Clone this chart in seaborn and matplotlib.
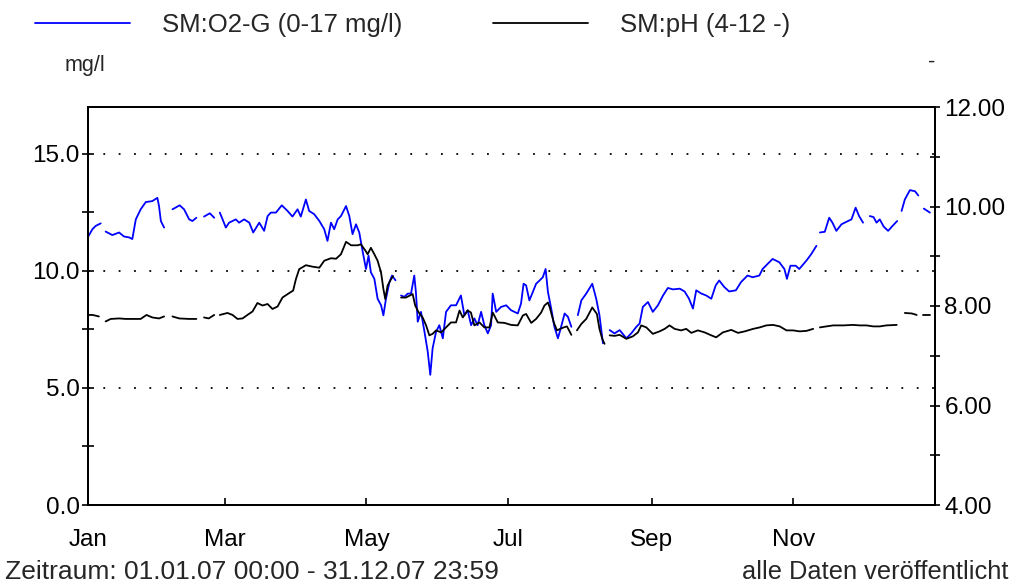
import numpy as np
import pandas as pd
import matplotlib
matplotlib.use("Agg")
import matplotlib.pyplot as plt
import matplotlib.dates as mdates
from matplotlib.ticker import MultipleLocator, FormatStrFormatter
import seaborn as sns

nan = np.nan

# ---- data (day of year 2007, value); NaN = gap in the record ----
o2_day = [0, 1.9, 3.3, 5.5, nan,
          7.6, 10.5, 13.4, 15.5, 17.7, 19.1, 20.6, 22.7, 24.9, 27.7, 29.9, 30.6, 31.4, 32.8, nan,
          36.4, 39.5, 41.4, 43.6, 45, 46.7, nan,
          50, 52.5, 54.4, nan,
          56.8, 58, 59.4, 60.8, 63.7, 65.1, 67.3, 69.5, 71.2, 73.8, 75.9, 77.4, 78.8, 81, 83.5, 86,
          88.1, 90.3, 91.7, 93.9, 95.3, 97.5, 99.7, 101.8, 103.2, 104.7, 106.1, 107.6, 109, 111.2,
          112.6, 114, 115.5, 116.9, 118.3, 119.8, 120.9, 121.9, 123.4, 124.8, 126.3, 127.3, 128.4,
          129.9, 131, 132.5, nan,
          134.9, 136.3, 137.8, 139.2, 140.6, 141.3, 142.1, 143.5, 145, 146.4, 147.5, 148.5, 150,
          151.4, 152.9, 154.3, 156.4, 158.6, 160.7, 162.2, 163.6, 165.1, 166.5, 167.9, 169.4, 170.8,
          172.3, 173.7, 174.4, 175.9, 178, 180.2, 182.3, 185.2, 186.6, 187.7, 188.8, 190.2, 191.7,
          193.1, 194.6, 196, 197.2, 198.2, 199.6, 201, 202.5, 203.5, 205.4, 206.8, 208.3, nan,
          211.1, 212.6, 214.7, 217.3, 219, 220.4, 221.9, nan,
          224.8, 226.9, 229.1, 232, 234.1, 236.3, 237.7, 239.1, 241.3, 243.4, 245.6, 247.8, 249.9,
          252.1, 255, 257.1, 259, 260.7, 262.1, 264.3, 266.4, 268.6, 270.5, 272, 274.2, 276.3,
          279.2, 281.4, 284.2, 286.4, 289.3, 290.7, 292.9, 295, 297.9, 300.1, 301.2, 302.7, 305,
          306.5, 309.6, 311.7, 313.9, nan,
          315.4, 317.5, 319.4, 320.8, 322.5, 324.7, 326.9, 329, 330.8, 332.3, 334, nan,
          336.9, 338.5, 339.8, 341.2, 342.9, 344.8, 346.7, 348.7, nan,
          350.6, 352, 354.2, 356.4, 357.8, nan,
          360.2, 362.8]
o2_val = [11.45, 11.78, 11.92, 12.03, nan,
          11.68, 11.53, 11.64, 11.47, 11.43, 11.36, 12.2, 12.63, 12.94, 12.98, 13.12, 12.77, 12.13, 11.85, nan,
          12.63, 12.8, 12.63, 12.2, 12.13, 12.27, nan,
          12.32, 12.46, 12.27, nan,
          12.49, 12.2, 11.85, 12.06, 12.2, 12.06, 12.2, 12.06, 11.64, 12.06, 11.71, 12.34, 12.49, 12.49, 12.8, 12.56,
          12.32, 12.63, 12.32, 13.05, 12.56, 12.42, 12.13, 11.78, 11.28, 12.06, 11.78, 12.2, 12.34, 12.77,
          12.34, 11.57, 11.99, 11.64, 10.86, 10.08, 10.65, 9.94, 9.66, 8.81, 8.53, 8.1, 8.81,
          9.52, 9.8, 9.6, nan,
          8.95, 8.89, 9.03, 9.03, 9.8, 9.1, 7.83, 8.25, 7.4, 6.55, 5.56, 6.69, 7.4,
          7.68, 7.12, 8.25, 8.53, 8.53, 8.95, 8.1, 8.32, 7.68, 7.97, 7.68, 8.25, 7.68,
          7.33, 7.68, 9.03, 8.25, 8.46, 8.53, 8.32, 8.18, 8.6, 9.45, 9.38, 8.74, 9.1,
          9.45, 9.59, 9.73, 10.08, 9.1, 8.39, 7.61, 7.12, 7.47, 8.18, 8.04, 7.61, nan,
          8.11, 8.74, 9.03, 9.45, 8.81, 8.11, 6.91, nan,
          7.47, 7.33, 7.47, 7.12, 7.33, 7.61, 7.75, 8.46, 8.67, 8.25, 8.53, 8.95, 9.27,
          9.21, 9.24, 9.12, 8.81, 8.39, 9.17, 9.03, 8.95, 8.81, 9.38, 9.59, 9.31, 9.12,
          9.17, 9.52, 9.8, 9.73, 9.8, 10.08, 10.3, 10.51, 10.37, 10.08, 9.66, 10.22, 10.22,
          10.08, 10.44, 10.72, 11.07, nan,
          11.64, 11.67, 12.27, 12.06, 11.71, 11.99, 12.1, 12.2, 12.7, 12.34, 12.06, nan,
          12.34, 12.3, 12.06, 12.2, 11.89, 11.71, 11.92, 12.13, nan,
          12.56, 13.05, 13.45, 13.4, 13.22, nan,
          12.66, 12.49]

ph_day = [0, 2, 4.7, nan,
          7.6, 9.8, 13.4, 16.3, 19.1, 22.7, 25.2, 27.7, 30.6, 32.8, nan,
          36.4, 39.3, 43.6, 46.7, nan,
          50, 52, 54.4, nan,
          56.8, 60.1, 62.3, 64.4, 66.6, 68.7, 70.9, 73, 75.2, 77.4, 79.5, 81.7, 83.8, 86.7, 88.4,
          89.6, 91, 93.9, 96.8, 99.7, 101.8, 104.7, 106.9, 109, 111.2, 113.4, 116.2, 117.6, 119.6,
          120.5, 121.9, 123.4, 124.8, 126.3, 127.3, 128.1, 129.1, 130.6, 131.5, nan,
          134.9, 137, 139.9, 141, 142.5, 144.2, 145.7, 147.1, 148.5, 150, 152.2, 154.3, 156.4,
          158.6, 160.1, 161.5, 163.6, 165, 166.5, 168.7, 170.8, 173, 174.4, 176.6, 179.5, 182.3,
          185.2, 187.4, 188.8, 191, 193.1, 195.3, 196.7, 198.2, 199, 200.7, 202.1, 203.5, 205,
          206.4, 208.3, nan,
          210.7, 212.6, 214.7, 217.3, 219.3, 220.4, 221.6, 222.6, nan,
          224.8, 227, 229.1, 232, 234.8, 237, 238.4, 240.6, 243.4, 246.3, 248.5, 250.6, 252.8,
          255.6, 257.8, 260, 262.8, 265.7, 268.6, 270.7, 273.6, 277.2, 280.1, 283, 286.6, 289.5,
          292.3, 295.2, 298.1, 301, 303.8, 306.7, 309.6, 312.5, nan,
          315.4, 318.2, 321.1, 325.4, 329.7, 332.6, 335.5, 338.4, 341.2, 344, 348.5, nan,
          352, 355, 357.1, nan,
          360, 362.8]
ph_val = [7.82, 7.82, 7.79, nan,
          7.69, 7.74, 7.75, 7.74, 7.74, 7.74, 7.82, 7.77, 7.75, 7.79, nan,
          7.79, 7.75, 7.74, 7.74, nan,
          7.77, 7.75, 7.82, nan,
          7.82, 7.86, 7.82, 7.74, 7.75, 7.82, 7.89, 8.06, 8.01, 8.04, 7.94, 7.99, 8.17, 8.26, 8.31,
          8.54, 8.74, 8.82, 8.79, 8.77, 8.91, 8.96, 8.95, 9.04, 9.29, 9.22, 9.22, 9.24, 9.11,
          9.04, 9.17, 9.04, 8.91, 8.67, 8.34, 8.14, 8.41, 8.54, 8.6, nan,
          8.17, 8.17, 8.24, 8.01, 7.87, 7.77, 7.61, 7.41, 7.44, 7.51, 7.47, 7.57, 7.67,
          7.67, 7.91, 7.77, 7.91, 7.87, 7.61, 7.67, 7.57, 7.57, 7.87, 7.67, 7.66, 7.62,
          7.61, 7.81, 7.84, 7.66, 7.74, 7.87, 8.01, 8.07, 7.97, 7.67, 7.51, 7.54, 7.57,
          7.59, 7.42, nan,
          7.51, 7.64, 7.74, 7.97, 7.84, 7.54, 7.34, 7.24, nan,
          7.41, 7.4, 7.42, 7.34, 7.39, 7.47, 7.61, 7.57, 7.44, 7.49, 7.54, 7.61, 7.54,
          7.51, 7.54, 7.46, 7.51, 7.47, 7.41, 7.37, 7.47, 7.52, 7.46, 7.49, 7.54, 7.57,
          7.61, 7.62, 7.59, 7.51, 7.51, 7.49, 7.5, 7.54, nan,
          7.57, 7.59, 7.61, 7.61, 7.62, 7.61, 7.61, 7.59, 7.59, 7.61, 7.62, nan,
          7.86, 7.85, 7.82, nan,
          7.82, 7.82]

o2_label = "SM:O2-G (0-17 mg/l)"
ph_label = "SM:pH (4-12 -)"
left_unit = "mg/l"
right_unit = "-"
footer_left = "Zeitraum: 01.01.07 00:00 - 31.12.07 23:59"
footer_right = "alle Daten veröffentlicht"

start = pd.Timestamp("2007-01-01")
end = pd.Timestamp("2007-12-31 23:59:59")


def segments(days, vals):
    df = pd.DataFrame({"day": days, "val": vals})
    grp = df["day"].isna().cumsum()
    for _, g in df.dropna().groupby(grp[df["day"].notna()]):
        g = g.copy()
        g["date"] = start + pd.to_timedelta(g["day"], unit="D")
        yield g


sns.set_style("ticks")
plt.rcParams["font.family"] = ["Liberation Sans", "DejaVu Sans"]
FS_TICK = 17.5
FS_LEG = 18.5

fig = plt.figure(figsize=(10.13, 5.87), dpi=100)
ax = fig.add_axes([88 / 1013, 1 - 505 / 587, 847 / 1013, 398 / 587])
ax2 = ax.twinx()

for g in segments(o2_day, o2_val):
    sns.lineplot(data=g, x="date", y="val", ax=ax, color="#0000ff", lw=1.3,
                 estimator=None, sort=False)
for g in segments(ph_day, ph_val):
    sns.lineplot(data=g, x="date", y="val", ax=ax2, color="black", lw=1.3,
                 estimator=None, sort=False)

ax.set_xlim(start, end)
ax.set_ylim(0, 17)
ax2.set_ylim(4, 12)
ax.set_xlabel("")
ax.set_ylabel("")
ax2.set_ylabel("")

ax.xaxis.set_major_locator(mdates.MonthLocator(bymonth=[1, 3, 5, 7, 9, 11]))
ax.xaxis.set_major_formatter(mdates.DateFormatter("%b"))
ax.yaxis.set_major_locator(MultipleLocator(5))
ax.yaxis.set_minor_locator(MultipleLocator(2.5))
ax.yaxis.set_major_formatter(FormatStrFormatter("%.1f"))
ax2.yaxis.set_major_locator(MultipleLocator(2))
ax2.yaxis.set_minor_locator(MultipleLocator(1))
ax2.yaxis.set_major_formatter(FormatStrFormatter("%.2f"))

ax.yaxis.grid(True, which="major", color="black", linestyle=(0, (1, 7.5)), lw=1.3)
ax.xaxis.grid(False)

ax.tick_params(axis="x", direction="in", length=5, width=1.2, labelsize=FS_TICK, pad=17,
               colors="black")
ax.tick_params(axis="y", which="both", direction="inout", length=9, width=1.2,
               labelsize=FS_TICK, pad=1.5, colors="black")
ax2.tick_params(axis="y", which="both", direction="inout", length=7.5, width=1.2,
                labelsize=FS_TICK, pad=3, colors="black")

for a in (ax, ax2):
    for s in a.spines.values():
        s.set_visible(True)
        s.set_color("black")
        s.set_linewidth(1.4)

# legend
h1 = ax.get_lines()[0]
h2 = ax2.get_lines()[0]
fig.legend([h1, h2], [o2_label, ph_label], loc="upper left",
           bbox_to_anchor=(25 / 1013, 1 - 3 / 587), ncol=2, frameon=False,
           fontsize=FS_LEG, handlelength=3.7, handletextpad=1.25, columnspacing=3.5,
           borderaxespad=0)

fig.text(65 / 1013, 1 - 66 / 587, left_unit, fontsize=15.5, va="center", ha="left")
fig.text(932 / 1013, 1 - 62 / 587, right_unit, fontsize=16, va="center", ha="center")
fig.text(5 / 1013, 1 - 572 / 587, footer_left, fontsize=19, va="center", ha="left")
fig.text(1008 / 1013, 1 - 572 / 587, footer_right, fontsize=18.3, va="center", ha="right")

fig.savefig("out.png", dpi=100, facecolor="white")
